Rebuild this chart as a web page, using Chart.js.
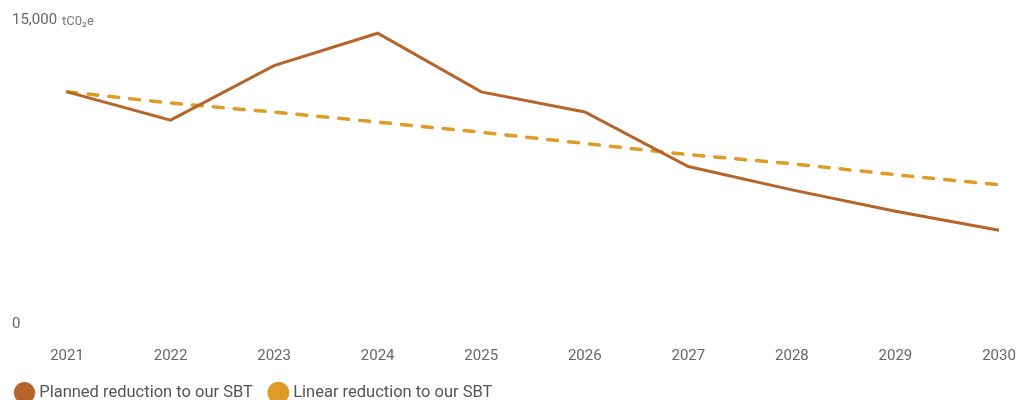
<!DOCTYPE html>
<html>
<head>
<meta charset="utf-8">
<script src="https://cdn.jsdelivr.net/npm/chart.js@4"></script>
<style>
html,body{margin:0;padding:0;background:#fff;}
#wrap{width:1036px;height:400px;position:relative;}
</style>
</head>
<body>
<div id="wrap"><canvas id="c"></canvas></div>
<script>
const years = ['2021','2022','2023','2024','2025','2026','2027','2028','2029','2030'];
const planned = [11460, 10070, 12750, 14350, 11460, 10470, 7780, 6630, 5580, 4640];
const linear = [11460, 10910, 10460, 9970, 9470, 8920, 8370, 7920, 7380, 6880];
const yTicks = [0, 15000];
const unitLabel = 'tC0₂e';

const unitPlugin = {
  id: 'unitLabel',
  afterLayout(chart) {
    // y-axis labels start 12px from the canvas edge
    chart.scales.y.left = 12;
  },
  afterDraw(chart) {
    const y = chart.scales.y;
    const ctx = chart.ctx;
    const top = y.getPixelForValue(yTicks[1]);
    ctx.save();
    ctx.font = '15px Roboto';
    const w = ctx.measureText(yTicks[1].toLocaleString('en-US')).width;
    ctx.font = '13px Roboto';
    ctx.fillStyle = '#777';
    ctx.textBaseline = 'alphabetic';
    ctx.textAlign = 'left';
    ctx.fillText(unitLabel, y.left + w + 5, top + 5);
    ctx.restore();
  }
};

new Chart(document.getElementById('c'), {
  type: 'line',
  data: {
    labels: years,
    datasets: [
      {
        label: 'Planned reduction to our SBT',
        data: planned,
        borderColor: '#B5652A',
        backgroundColor: '#B5652A',
        borderWidth: 3,
        pointRadius: 0,
        tension: 0,
        fill: false
      },
      {
        label: 'Linear reduction to our SBT',
        data: linear,
        borderColor: '#DE9C26',
        backgroundColor: '#DE9C26',
        borderWidth: 3.5,
        borderDash: [10, 11],
        borderCapStyle: 'round',
        pointRadius: 0,
        tension: 0,
        fill: false
      }
    ]
  },
  options: {
    responsive: true,
    maintainAspectRatio: false,
    animation: false,
    layout: { padding: { left: -1, right: 37, top: 20, bottom: -11 } },
    plugins: {
      tooltip: { enabled: false },
      legend: {
        position: 'bottom',
        align: 'start',
        labels: {
          usePointStyle: true,
          pointStyle: 'circle',
          boxHeight: 13,
          boxWidth: 13,
          padding: 19,
          color: '#555',
          font: { family: 'Roboto', size: 16.5 }
        }
      }
    },
    scales: {
      x: {
        afterFit(scale) { scale.height = 41; scale.paddingRight = 0; scale.paddingLeft = 0; },
        grid: { display: false, drawTicks: false },
        border: { display: false },
        ticks: {
          color: '#666',
          font: { family: 'Roboto', size: 15 },
          padding: 23,
          maxRotation: 0,
          autoSkip: false
        }
      },
      y: {
        min: 0,
        max: 15000,
        afterFit(scale) { scale.width = 68; },
        afterBuildTicks(scale) { scale.ticks = yTicks.map(v => ({ value: v })); },
        grid: { display: false, drawTicks: false },
        border: { display: false },
        ticks: {
          color: '#666',
          font: { family: 'Roboto', size: 15 },
          crossAlign: 'far',
          padding: 0,
          callback: v => v.toLocaleString('en-US')
        }
      }
    }
  },
  plugins: [unitPlugin]
});
</script>
</body>
</html>
